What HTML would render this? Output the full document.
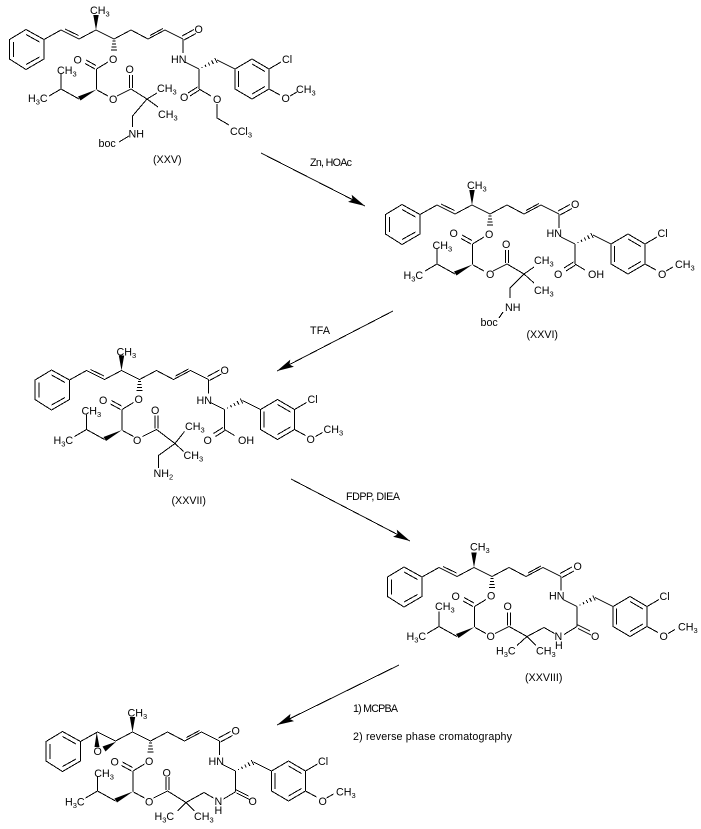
<!DOCTYPE html>
<html>
<head>
<meta charset="utf-8">
<style>
html,body{margin:0;padding:0;background:#fff}
svg{display:block}
text{font-family:"Liberation Sans",Arial,sans-serif;font-size:10.7px;fill:#000}
.s{font-size:7.5px}
.b{fill:none;stroke:#000;stroke-width:1;shape-rendering:crispEdges}
</style>
</head>
<body>
<svg xmlns="http://www.w3.org/2000/svg" width="701" height="829" viewBox="0 0 701 829">
<defs>
<marker id="ah" markerUnits="userSpaceOnUse" markerWidth="18" markerHeight="12" refX="17" refY="6" orient="auto">
<path d="M0 2L17 6L0 10L3 6Z" fill="#000"/>
</marker>
<g id="core">
<path class="b" d="M26 29.5L44 39.5L44 59L26 69.5L9.5 59L9.5 39.5Z M26 34.5L39.5 42 M39.5 57L26 64.5 M13.5 42L13.5 57
M44 39.5L61 30L79 39L96 30L114 39L131 30L148 39L165 30L183 39 M150 35.5L163 28.5
M182 36L194 29.5 M184 40L196 33.5 M183 39L183 53 M185 62L199 69 M217 60L235 69
M235 69L252 59L269 69L269 89L252 99L235 89Z M238.5 71L238.5 87 M252 64L265 71.5 M252 94L265 86.5
M269 69L281 62 M269 89L280 95 M290 96L297 92 M199 69L199 89
M108 62L96.5 69 M95 69L85 63.5 M96 65.5L86 60 M96.5 69L96.5 89.5 M79 99L61 89L61 74 M61 89L49 96
M97 90L108 96 M117 96L131 89 M129.5 88L129.5 75 M132.5 88L132.5 75
M112.5 41L115.5 41 M112 44L116 44 M111.5 47L116.5 47 M111 50L117 50
M201.7 67L202.3 68 M205 64.8L206 66.7 M208.3 62.6L209.7 65.4 M211.6 60.4L213.4 64.1 M214.8 58.2L217.2 62.8"/>
<polygon points="96,30 93.3,15 98.7,15" fill="#000"/>
<polygon points="96.5,89.5 78,96.5 80.5,100.5" fill="#000"/>
</g>
<path id="alk" class="b" d="M65 29L78.5 35.5"/>
</defs>

<!-- Arrows -->
<line class="b" x1="261" y1="153" x2="365" y2="206" marker-end="url(#ah)"/>
<line class="b" x1="393" y1="311" x2="277" y2="371" marker-end="url(#ah)"/>
<line class="b" x1="291" y1="479" x2="410" y2="541" marker-end="url(#ah)"/>
<line class="b" x1="399" y1="665" x2="277" y2="725" marker-end="url(#ah)"/>
<text x="310" y="166" textLength="42">Zn, HOAc</text>
<text x="310" y="334" textLength="20">TFA</text>
<text x="346" y="500" textLength="54">FDPP, DIEA</text>
<text x="353" y="712" textLength="45">1) MCPBA</text>
<text x="353" y="740" textLength="159">2) reverse phase cromatography</text>

<!-- XXV -->
<g>
<use href="#core"/><use href="#alk"/>
<path class="b" d="M131 89L147 99 M147 99L157 93 M147 99L158 107 M147 99L132.5 116L132.5 127 M119 142L129 136
M197.5 87L188 93 M199.5 90L190 96 M199 89L211 96 M217 104L217 118L229 125"/>
<text x="90" y="14">CH<tspan class="s" dy="2.5">3</tspan></text>
<text x="194.5" y="33">O</text>
<text x="171" y="63">HN</text>
<text x="282" y="63">Cl</text>
<text x="281.5" y="102">O</text>
<text x="296" y="93">CH<tspan class="s" dy="2.5">3</tspan></text>
<text x="180" y="101">O</text>
<text x="213" y="103">O</text>
<text x="230" y="135">CCl<tspan class="s" dy="2.5">3</tspan></text>
<text x="109" y="63">O</text>
<text x="73.5" y="63.5">O</text>
<text x="57" y="74">CH<tspan class="s" dy="2.5">3</tspan></text>
<text x="28" y="102">H<tspan class="s" dy="2.5">3</tspan><tspan dy="-2.5">C</tspan></text>
<text x="109" y="103">O</text>
<text x="125.5" y="73">O</text>
<text x="157" y="92">CH<tspan class="s" dy="2.5">3</tspan></text>
<text x="158" y="118">CH<tspan class="s" dy="2.5">3</tspan></text>
<text x="128.5" y="137.5">NH</text>
<text x="98.5" y="147">boc</text>
<text x="153" y="163">(XXV)</text>
</g>

<!-- XXVI -->
<g transform="translate(376 175)">
<use href="#core"/><use href="#alk"/>
<path class="b" d="M131 89L148 99 M148 99L158 92 M148 99L158 108 M148 99L134 113L134 123 M127 137L123 143
M197.5 87L188 93 M199.5 90L190 96 M199 89L209 95"/>
<text x="91" y="14">CH<tspan class="s" dy="2.5">3</tspan></text>
<text x="195" y="33">O</text>
<text x="170.5" y="62">HN</text>
<text x="281.5" y="62">Cl</text>
<text x="282" y="103">O</text>
<text x="299" y="93">CH<tspan class="s" dy="2.5">3</tspan></text>
<text x="178" y="103">O</text>
<text x="212" y="103">OH</text>
<text x="109" y="63">O</text>
<text x="73.5" y="62">O</text>
<text x="56.5" y="74">CH<tspan class="s" dy="2.5">3</tspan></text>
<text x="27.5" y="104">H<tspan class="s" dy="2.5">3</tspan><tspan dy="-2.5">C</tspan></text>
<text x="110" y="103">O</text>
<text x="126" y="73">O</text>
<text x="158" y="89">CH<tspan class="s" dy="2.5">3</tspan></text>
<text x="158" y="119">CH<tspan class="s" dy="2.5">3</tspan></text>
<text x="129" y="136">NH</text>
<text x="104.5" y="151">boc</text>
<text x="150.5" y="163">(XXVI)</text>
</g>

<!-- XXVII -->
<g transform="translate(25.5 340.5)">
<use href="#core"/><use href="#alk"/>
<path class="b" d="M131 89L149.5 103 M149.5 103L159 91 M149.5 103L158 111 M149.5 103L133 115L133 127.5
M197.5 87L188 93 M199.5 90L190 96 M199 89L209 95"/>
<text x="91" y="15">CH<tspan class="s" dy="2.5">3</tspan></text>
<text x="195" y="33.5">O</text>
<text x="171" y="63.5">HN</text>
<text x="282" y="62.5">Cl</text>
<text x="281" y="102.5">O</text>
<text x="298" y="92.5">CH<tspan class="s" dy="2.5">3</tspan></text>
<text x="178" y="103.5">O</text>
<text x="212.5" y="103.5">OH</text>
<text x="109" y="62.5">O</text>
<text x="73.5" y="63.5">O</text>
<text x="56" y="74">CH<tspan class="s" dy="2.5">3</tspan></text>
<text x="28" y="103.5">H<tspan class="s" dy="2.5">3</tspan><tspan dy="-2.5">C</tspan></text>
<text x="107.5" y="103.5">O</text>
<text x="125.5" y="73.5">O</text>
<text x="159.5" y="89.5">CH<tspan class="s" dy="2.5">3</tspan></text>
<text x="158" y="118.5">CH<tspan class="s" dy="2.5">3</tspan></text>
<text x="128" y="136.5">NH<tspan class="s" dy="2.5">2</tspan></text>
<text x="146" y="163.5">(XXVII)</text>
</g>

<!-- XXVIII -->
<g transform="translate(378 537.5)">
<use href="#core"/><use href="#alk"/>
<path class="b" d="M131 89L149 99 M149 99L166 90L176.5 96 M149 99L139 108 M149 99L158 108 M186 97L199 89
M199 87L212 93.5 M200 91L213 97.5"/>
<text x="92" y="13">CH<tspan class="s" dy="2.5">3</tspan></text>
<text x="195.5" y="32.5">O</text>
<text x="171" y="62">HN</text>
<text x="281.5" y="62.5">Cl</text>
<text x="281.5" y="102.5">O</text>
<text x="300" y="93">CH<tspan class="s" dy="2.5">3</tspan></text>
<text x="213" y="102.5">O</text>
<text x="176.5" y="102.5">N</text>
<text x="177" y="111.5">H</text>
<text x="109" y="62">O</text>
<text x="73.5" y="62.5">O</text>
<text x="57" y="72.5">CH<tspan class="s" dy="2.5">3</tspan></text>
<text x="28.5" y="102.5">H<tspan class="s" dy="2.5">3</tspan><tspan dy="-2.5">C</tspan></text>
<text x="108.5" y="102.5">O</text>
<text x="125.5" y="72.5">O</text>
<text x="118" y="117">H<tspan class="s" dy="2.5">3</tspan><tspan dy="-2.5">C</tspan></text>
<text x="158" y="117">CH<tspan class="s" dy="2.5">3</tspan></text>
<text x="147" y="143.5">(XXVIII)</text>
</g>

<!-- Final -->
<g transform="translate(36.5 702)">
<use href="#core"/>
<polygon points="60.2,30.5 58,45 63,45" fill="#000"/>
<polygon points="79.5,39.7 66,44.5 69,49.5" fill="#000"/>
<path class="b" d="M131 89L149.5 100.5 M149.5 100.5L167.5 90.5L177 96 M149.5 100.5L141 109 M149.5 100.5L158 109 M187 97L199.5 89.5
M199 87.5L212 94 M200 91L213 97.5"/>
<text x="91" y="14.5">CH<tspan class="s" dy="2.5">3</tspan></text>
<text x="195" y="32.5">O</text>
<text x="172" y="63">HN</text>
<text x="281.5" y="63">Cl</text>
<text x="282" y="103">O</text>
<text x="299.5" y="93.5">CH<tspan class="s" dy="2.5">3</tspan></text>
<text x="212" y="103">O</text>
<text x="178" y="103">N</text>
<text x="178" y="112">H</text>
<text x="108.5" y="63">O</text>
<text x="74" y="63.5">O</text>
<text x="57.8" y="75">CH<tspan class="s" dy="2.5">3</tspan></text>
<text x="28.5" y="103.5">H<tspan class="s" dy="2.5">3</tspan><tspan dy="-2.5">C</tspan></text>
<text x="108.5" y="103.5">O</text>
<text x="126" y="74.5">O</text>
<text x="118" y="118">H<tspan class="s" dy="2.5">3</tspan><tspan dy="-2.5">C</tspan></text>
<text x="157.5" y="118">CH<tspan class="s" dy="2.5">3</tspan></text>
<text x="57" y="53">O</text>
</g>
</svg>
</body>
</html>
